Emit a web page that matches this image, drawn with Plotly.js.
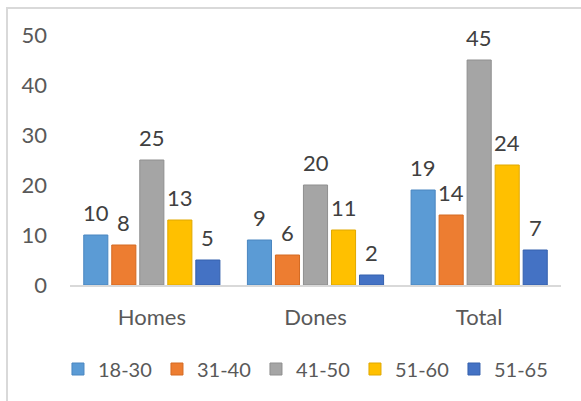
<!DOCTYPE html>
<html>
<head>
<meta charset="utf-8">
<script src="https://cdn.plot.ly/plotly-3.0.1.min.js"></script>
<style>
html,body{margin:0;padding:0;background:#fff;overflow:hidden;}
#wrap{position:absolute;left:0;top:0;width:581px;height:401px;overflow:hidden;}
#frame{position:absolute;left:6px;top:7px;width:700px;height:500px;border:2px solid #d9d9d9;box-sizing:border-box;z-index:5;pointer-events:none;}
#chart{position:absolute;left:0;top:0;width:581px;height:401px;z-index:1;}
</style>
</head>
<body>
<div id="wrap"><div id="chart"></div><div id="frame"></div></div>
<script>
var categories = ["Homes", "Dones", "Total"];
var seriesNames = ["18-30", "31-40", "41-50", "51-60", "51-65"];
var s1830 = [10, 9, 19];
var s3140 = [8, 6, 14];
var s4150 = [25, 20, 45];
var s5160 = [13, 11, 24];
var s5165 = [5, 2, 7];
var yTicks = [0, 10, 20, 30, 40, 50];

var seriesValues = [s1830, s3140, s4150, s5160, s5165];
var colors = ["#5B9BD5", "#ED7D31", "#A5A5A5", "#FFC000", "#4472C4"];
var lines = ["#4a86c0", "#d46a22", "#8f8f8f", "#e0a800", "#3560ad"];

var W = 581, H = 401;
var margin = {l: 70, r: 20, t: 35, b: 116};
var bargap = 0.144, bargroupgap = 0.14;
var fontFam = "Lato, 'Open Sans', sans-serif";
var fs = 22;

var traces = seriesValues.map(function (vals, i) {
  return {
    type: "bar",
    name: seriesNames[i],
    x: categories,
    y: vals,
    marker: {color: colors[i], line: {color: lines[i], width: 1}},
    hoverinfo: "skip"
  };
});

var plotW = W - margin.l - margin.r;
var catW = plotW / categories.length;
var slot = catW * (1 - bargap) / seriesValues.length;
var annotations = [];
seriesValues.forEach(function (vals, i) {
  vals.forEach(function (v, j) {
    annotations.push({
      x: categories[j], y: v, xref: "x", yref: "y",
      text: String(v), showarrow: false,
      xanchor: "center", yanchor: "middle",
      xshift: (i - (seriesValues.length - 1) / 2) * slot,
      yshift: 23,
      font: {family: fontFam, size: fs, color: "#404040"}
    });
  });
});

var layout = {
  width: W, height: H,
  margin: margin,
  paper_bgcolor: "rgba(0,0,0,0)",
  plot_bgcolor: "rgba(0,0,0,0)",
  barmode: "group",
  bargap: bargap,
  bargroupgap: bargroupgap,
  showlegend: true,
  legend: {
    orientation: "h",
    x: -0.0245, xanchor: "left",
    y: -0.336, yanchor: "middle",
    entrywidth: 54,
    font: {family: fontFam, size: 20, color: "#595959"},
    itemclick: false, itemdoubleclick: false,
    traceorder: "normal"
  },
  xaxis: {
    type: "category",
    showgrid: false,
    showline: true, linecolor: "#d9d9d9", linewidth: 2,
    ticks: "", ticklabelstandoff: 12,
    tickfont: {family: fontFam, size: fs, color: "#595959"},
    fixedrange: true
  },
  yaxis: {
    range: [0, 50],
    tickvals: yTicks,
    showgrid: false, zeroline: false, showline: false,
    ticks: "", ticklabelstandoff: 22,
    tickfont: {family: fontFam, size: fs, color: "#595959"},
    fixedrange: true
  },
  annotations: annotations
};

Plotly.newPlot("chart", traces, layout, {displayModeBar: false, staticPlot: true});
</script>
</body>
</html>
